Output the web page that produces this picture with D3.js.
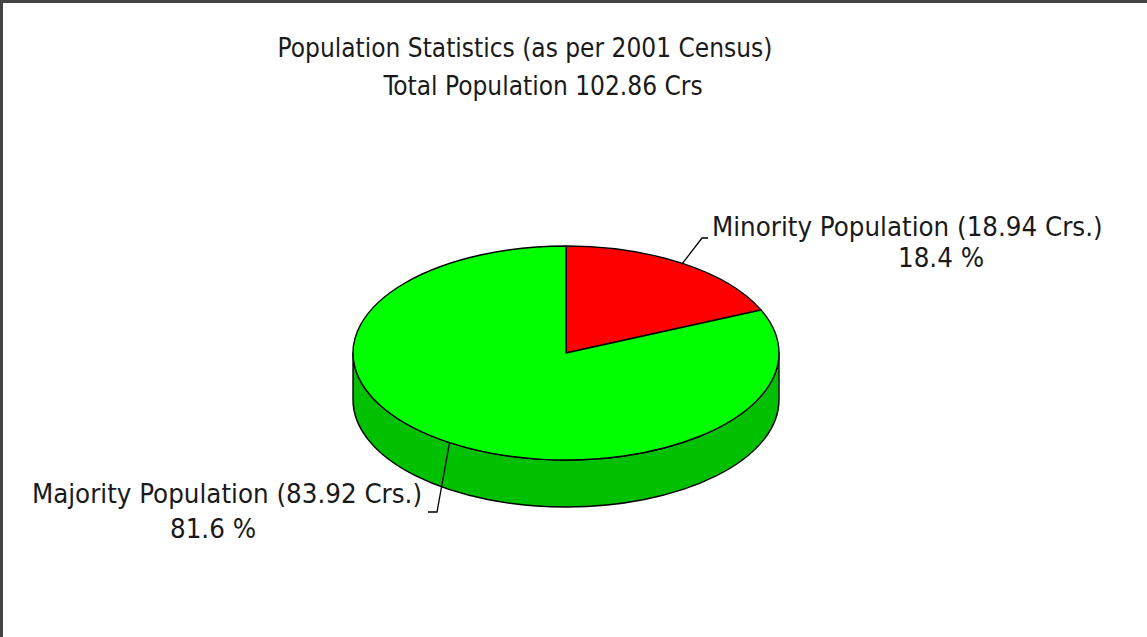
<!DOCTYPE html>
<html>
<head>
<meta charset="utf-8">
<script src="https://cdn.jsdelivr.net/npm/d3@7"></script>
<style>
  html, body { margin: 0; padding: 0; background: #fff; }
  svg { display: block; }
  text { font-family: "DejaVu Sans Condensed", "DejaVu Sans", sans-serif; fill: #1a1a1a; }
</style>
</head>
<body>
<div id="chart"></div>
<script>
// data
const titleLines = ["Population Statistics (as per 2001 Census)", "Total Population 102.86 Crs"];
const categories = ["Minority Population", "Majority Population"];
const valuesCrs = [18.94, 83.92];
const percents = [18.4, 81.6];

const width = 1147, height = 637;
const topColors = ["#ff0000", "#00ff00"];
const sideColors = ["#c00000", "#00c000"];

// pie geometry (ellipse for the tilted disc)
const cx = 566, cy = 353, rx = 213, ry = 107, depth = 47;

// label layout: line 1, line 2, leader elbow and end
const labelLayout = [
  { x1: 712, y1: 236, anchor: "start", x2: 941, y2: 267, elbow: [702, 238], end: [708, 238] },
  { x1: 422, y1: 503, anchor: "end",   x2: 213, y2: 538, elbow: [437, 512], end: [428, 512] }
];

const svg = d3.select("#chart").append("svg")
  .attr("width", width)
  .attr("height", height);

// frame (only top and left visible in original)
svg.append("line").attr("x1", 0).attr("x2", width).attr("y1", 1.5).attr("y2", 1.5)
  .attr("stroke", "#444").attr("stroke-width", 3);
svg.append("line").attr("x1", 1.5).attr("x2", 1.5).attr("y1", 0).attr("y2", height)
  .attr("stroke", "#444").attr("stroke-width", 3);

// title
svg.append("text").attr("x", 525).attr("y", 57).attr("text-anchor", "middle")
  .style("font-size", "26px").text(titleLines[0]);
svg.append("text").attr("x", 543).attr("y", 95).attr("text-anchor", "middle")
  .style("font-size", "26px").text(titleLines[1]);

const pie = d3.pie().sort(null).value(d => d);
const arcs = pie(valuesCrs);

function pt(a, dy) {
  return [cx + rx * Math.sin(a), cy - ry * Math.cos(a) + (dy || 0)];
}

// side walls (front half only: angles PI/2 .. 3PI/2)
const g = svg.append("g");
arcs.forEach((d, i) => {
  const s0 = Math.max(d.startAngle, Math.PI / 2);
  const s1 = Math.min(d.endAngle, 3 * Math.PI / 2);
  if (s1 <= s0) return;
  const a = pt(s0), b = pt(s1), b2 = pt(s1, depth), a2 = pt(s0, depth);
  const path = "M" + a + " A" + rx + "," + ry + " 0 0 1 " + b +
    " L" + b2 + " A" + rx + "," + ry + " 0 0 0 " + a2 + " Z";
  g.append("path")
    .attr("d", path)
    .attr("fill", sideColors[i])
    .attr("stroke", "#000")
    .attr("stroke-width", 1.4)
    .attr("stroke-linejoin", "round");
});

// top faces
arcs.forEach((d, i) => {
  const a = pt(d.startAngle), b = pt(d.endAngle);
  const large = (d.endAngle - d.startAngle) > Math.PI ? 1 : 0;
  const path = "M" + cx + "," + cy + " L" + a + " A" + rx + "," + ry + " 0 " + large + " 1 " + b + " Z";
  g.append("path")
    .attr("d", path)
    .attr("fill", topColors[i])
    .attr("stroke", "#000")
    .attr("stroke-width", 1.4)
    .attr("stroke-linejoin", "round");
});

// leader lines and labels
arcs.forEach((d, i) => {
  const mid = (d.startAngle + d.endAngle) / 2;
  const L = labelLayout[i];
  svg.append("polyline")
    .attr("points", [pt(mid), L.elbow, L.end].map(p => p.join(",")).join(" "))
    .attr("fill", "none")
    .attr("stroke", "#000")
    .attr("stroke-width", 1.3);
  svg.append("text")
    .attr("x", L.x1).attr("y", L.y1)
    .attr("text-anchor", L.anchor)
    .style("font-size", "27.4px")
    .text(categories[i] + " (" + valuesCrs[i].toFixed(2) + " Crs.)");
  svg.append("text")
    .attr("x", L.x2).attr("y", L.y2)
    .attr("text-anchor", "middle")
    .style("font-size", "27.4px")
    .text(percents[i].toFixed(1) + " %");
});
</script>
</body>
</html>
